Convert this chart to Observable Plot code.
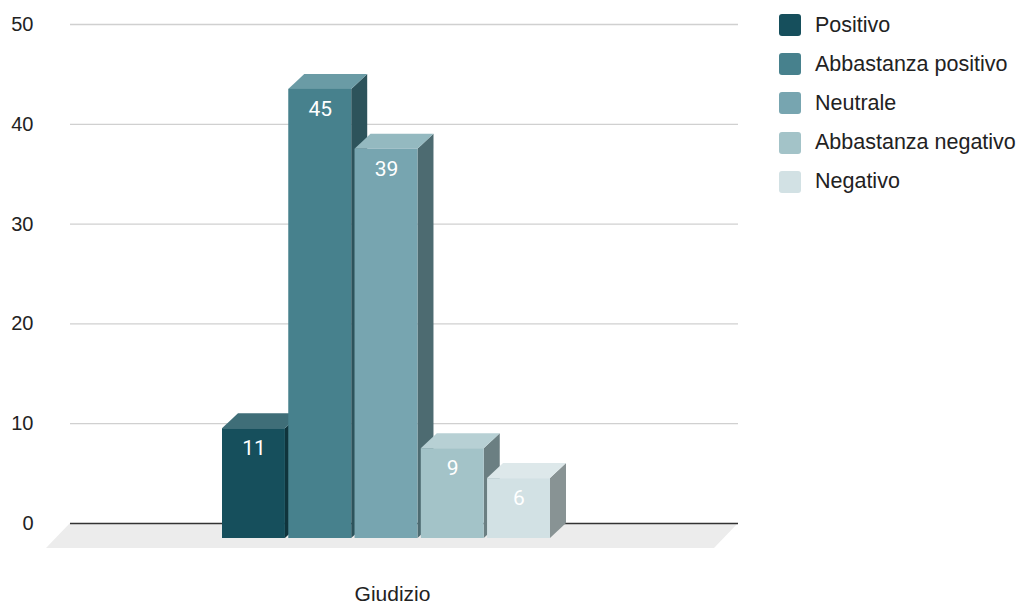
<!DOCTYPE html>
<html>
<head>
<meta charset="utf-8">
<script src="https://cdn.jsdelivr.net/npm/d3@7"></script>
<script src="https://cdn.jsdelivr.net/npm/@observablehq/plot@0.6"></script>
<style>
  body { margin: 0; background: #fff; }
  #wrap { position: relative; width: 1020px; height: 610px; overflow: hidden; }
  #legend { position: absolute; left: 779px; top: 0; font-family: "Liberation Sans", Arial, sans-serif; font-size: 21.5px; color: #222; }
  .item { position: absolute; left: 0; height: 22px; display: flex; align-items: center; white-space: nowrap; }
  .sw { width: 22px; height: 22px; border-radius: 3px; margin-right: 14px; flex: none; }
</style>
</head>
<body>
<div id="wrap"><div id="legend"></div></div>
<script>
// ---- data ----
const categories = ["Positivo", "Abbastanza positivo", "Neutrale", "Abbastanza negativo", "Negativo"];
const values = [11, 45, 39, 9, 6];
const yTicks = [0, 10, 20, 30, 40, 50];
const xLabel = "Giudizio";

// ---- palette ----
const frontColors = ["#164f5c", "#47818d", "#77a5b0", "#a3c3c8", "#d2e1e4"];
const topColors   = ["#3f6e78", "#6a9ba5", "#94b9c0", "#b7d0d4", "#dde8ea"];
const sideColors  = ["#0f343c", "#2d535b", "#4d6b71", "#6b7f82", "#889394"];

const data = categories.map((c, i) => ({cat: c, value: values[i], i}));

const depthX = 16, depthY = 15;
const xScaleOpts = {type: "band", domain: categories, range: [238, 566], paddingInner: 0.05, paddingOuter: 0, round: false};
const bw = Plot.scale({x: xScaleOpts}).bandwidth;

const chart = Plot.plot({
  width: 1020,
  height: 610,
  marginLeft: 70,
  marginRight: 282,
  marginTop: 24,
  marginBottom: 87,
  style: {fontFamily: "'Liberation Sans', Arial, sans-serif", background: "transparent"},
  x: {...xScaleOpts, axis: null},
  y: {domain: [0, 50], axis: null},
  color: {type: "identity"},
  marks: [
    Plot.rect([0], {y1: d => d, y2: d => d, insetBottom: -25, fill: "#ececec", ariaDescription: "floor"}),
    Plot.ruleY(yTicks.filter(t => t > 0), {stroke: "#d0d0d0", strokeWidth: 1.3}),
    Plot.ruleY([0], {stroke: "#333", strokeWidth: 1.5}),
    Plot.axisY(yTicks, {tickSize: 0, tickPadding: 37, fontSize: 20, fill: "#222", label: null}),
    Plot.barY(data, {x: "cat", y1: 0, y2: "value", fill: d => sideColors[d.i], insetLeft: bw - depthX, dy: depthY, ariaDescription: "bar-side"}),
    Plot.barY(data, {x: "cat", y1: "value", y2: "value", fill: d => topColors[d.i], insetBottom: -depthY, ariaDescription: "bar-top"}),
    Plot.barY(data, {x: "cat", y1: 0, y2: "value", fill: d => frontColors[d.i], dx: -depthX, dy: depthY, ariaDescription: "bar-front"}),
    Plot.text(data, {x: "cat", y: "value", text: d => String(d.value), dx: -depthX, dy: depthY + 20, fill: "white", fontSize: 21, fontFamily: "Roboto"}),
    Plot.text([xLabel], {frameAnchor: "bottom", text: d => d, dx: -12, dy: 77, fontSize: 21, fill: "#222"})
  ]
});

// oblique projection: skew each face rect about its own top-left corner
function skew(sel, kind, k) {
  sel.each(function () {
    const r = d3.select(this);
    const x = +r.attr("x"), y = +r.attr("y");
    const m = kind === "x" ? `matrix(1,0,${k},1,${-k * y},0)` : `matrix(1,${k},0,1,0,${-k * x})`;
    r.attr("transform", m);
  });
}
const svg = d3.select(chart);
skew(svg.selectAll('g[aria-description="bar-top"] rect'), "x", -depthX / depthY);
skew(svg.selectAll('g[aria-description="bar-side"] rect'), "y", -depthY / depthX);
skew(svg.selectAll('g[aria-description="floor"] rect'), "x", -24 / 25);

const wrap = document.getElementById("wrap");
wrap.insertBefore(chart, wrap.firstChild);

const legend = d3.select("#legend");
categories.forEach((c, i) => {
  const item = legend.append("div").attr("class", "item").style("top", (14 + i * 39.2) + "px");
  item.append("div").attr("class", "sw").style("background", frontColors[i]);
  item.append("span").text(c);
});
</script>
</body>
</html>
